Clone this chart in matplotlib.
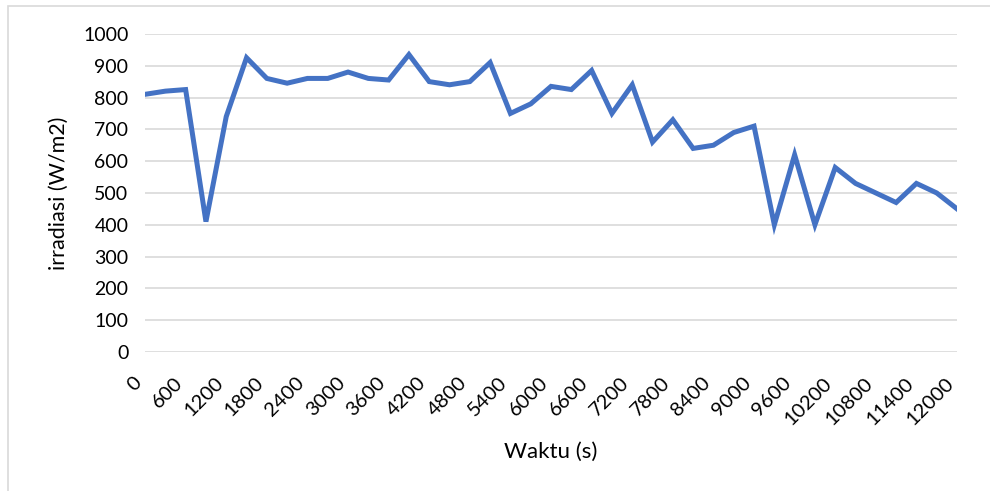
import matplotlib.pyplot as plt
from matplotlib.patches import Rectangle

# Waktu pengukuran (detik) dan irradiasi (W/m2)
waktu = [0, 300, 600, 900, 1200, 1500, 1800, 2100, 2400, 2700,
         3000, 3300, 3600, 3900, 4200, 4500, 4800, 5100, 5400, 5700,
         6000, 6300, 6600, 6900, 7200, 7500, 7800, 8100, 8400, 8700,
         9000, 9300, 9600, 9900, 10200, 10500, 10800, 11100, 11400, 11700,
         12000]
irradiasi = [810, 820, 825, 410, 740, 925, 860, 845, 860, 860,
             880, 860, 855, 935, 850, 840, 850, 910, 750, 780,
             835, 825, 885, 750, 840, 660, 730, 640, 650, 690,
             710, 400, 620, 400, 580, 530, 500, 470, 530, 500,
             450]
y_ticks = [0, 100, 200, 300, 400, 500, 600, 700, 800, 900, 1000]

plt.rcParams['font.family'] = ['Lato', 'DejaVu Sans']

fig = plt.figure(figsize=(9.9, 4.91), dpi=100)
ax = fig.add_axes([0.1465, 0.283, 0.8202, 0.648])

# posisi kategori seperti grafik garis Excel
idx = list(range(len(waktu)))
ax.plot(idx, irradiasi, color='#4472C4', linewidth=3.6,
        solid_joinstyle='miter', zorder=3)

ax.set_xlim(0, len(waktu) - 1)
ax.set_ylim(0, 1000)
ax.set_yticks(y_ticks)
ax.set_yticklabels([str(v) for v in y_ticks], fontsize=14)
ax.set_xticks(idx[::2])
ax.set_xticklabels([str(w) for w in waktu[::2]], rotation=45,
                   ha='right', va='top', fontsize=14.5)
ax.tick_params(axis='both', length=0, colors='#000000')
ax.tick_params(axis='x', pad=16)
ax.tick_params(axis='y', pad=12)

ax.grid(axis='y', color='#D9D9D9', linewidth=1.2)
ax.set_axisbelow(True)
for s in ax.spines.values():
    s.set_visible(False)

ax.set_xlabel('Waktu (s)', fontsize=16, labelpad=10)
ax.set_ylabel('irradiasi (W/m2)', fontsize=15.5, labelpad=10)

# bingkai area grafik
fig.patches.append(Rectangle((8 / 990, -0.1), 1.1, 1.1 - 6 / 491,
                             transform=fig.transFigure, fill=False,
                             edgecolor='#D9D9D9', linewidth=1.2))

fig.savefig('out.png', dpi=100)
